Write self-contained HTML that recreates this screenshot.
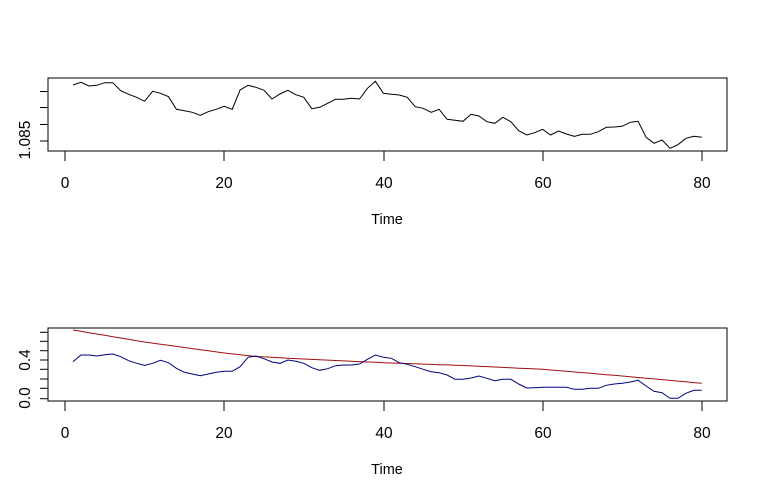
<!DOCTYPE html>
<html><head><meta charset="utf-8"><style>
html,body{margin:0;padding:0;background:#fff;}
svg{display:block;font-family:"Liberation Sans",Arial,sans-serif;}
</style></head><body>
<svg id="s" width="776" height="496" xmlns="http://www.w3.org/2000/svg">
<rect width="776" height="496" fill="#fff"/>
<rect x="48" y="78" width="679" height="73" fill="none" stroke="#000" stroke-width="1"/>
<g stroke="#000">
<line x1="65" y1="151" x2="702" y2="151"/>
<line x1="65" y1="151" x2="65" y2="161"/><line x1="224" y1="151" x2="224" y2="161"/>
<line x1="384" y1="151" x2="384" y2="161"/><line x1="543" y1="151" x2="543" y2="161"/>
<line x1="702" y1="151" x2="702" y2="161"/>
<line x1="48" y1="91.5" x2="40" y2="91.5"/><line x1="48" y1="107.5" x2="40" y2="107.5"/>
<line x1="48" y1="124.5" x2="40" y2="124.5"/><line x1="48" y1="141" x2="40" y2="141"/>
</g>
<g font-size="15.5" text-anchor="middle" fill="#000">
<text x="65" y="188">0</text><text x="224" y="188">20</text><text x="384" y="188">40</text>
<text x="543" y="188">60</text><text x="702" y="188">80</text>
<text x="387" y="224" font-size="14.5">Time</text>
<text transform="translate(30,140) rotate(-90)">1.085</text>
</g>
<rect x="48" y="328" width="679" height="73" fill="none" stroke="#000" stroke-width="1"/>
<g stroke="#000">
<line x1="65" y1="401" x2="702" y2="401"/>
<line x1="65" y1="401" x2="65" y2="411"/><line x1="224" y1="401" x2="224" y2="411"/>
<line x1="384" y1="401" x2="384" y2="411"/><line x1="543" y1="401" x2="543" y2="411"/>
<line x1="702" y1="401" x2="702" y2="411"/>
<line x1="48" y1="332.3" x2="40" y2="332.3"/><line x1="48" y1="341.3" x2="40" y2="341.3"/>
<line x1="48" y1="350.7" x2="40" y2="350.7"/><line x1="48" y1="360" x2="40" y2="360"/>
<line x1="48" y1="369.3" x2="40" y2="369.3"/><line x1="48" y1="379" x2="40" y2="379"/>
<line x1="48" y1="388.3" x2="40" y2="388.3"/><line x1="48" y1="398.7" x2="40" y2="398.7"/>
</g>
<g font-size="15.5" text-anchor="middle" fill="#000">
<text x="65" y="438">0</text><text x="224" y="438">20</text><text x="384" y="438">40</text>
<text x="543" y="438">60</text><text x="702" y="438">80</text>
<text x="387" y="474" font-size="14.5">Time</text>
<text transform="translate(30,360) rotate(-90)">0.4</text>
<text transform="translate(30,398) rotate(-90)">0.0</text>
</g>
<polyline id="p1" fill="none" stroke="#000" stroke-width="1"/>
<polyline id="p3" fill="none" stroke="#a01010" stroke-width="1"/>
<polyline id="p2" fill="none" stroke="#000080" stroke-width="1"/>
</svg>
<script>
var top1=[75,67,78,76,68,68,92,103,112,124,94,100,110,148,152,157,166,155,148,139,148,90,76,82,91,117,102,91,104,112,146,142,130,118,118,115,117,85,64,100,103,105,112,140,145,157,148,178,181,184,163,168,185,190,172,185,212,225,218,208,225,213,222,229,223,223,215,202,201,199,187,184,232,250,240,265,254,235,229,232];
var blue=[125,105,105,108,104,102,110,122,130,136,130,121,128,145,157,162,167,162,157,154,154,140,112,108,116,126,130,120,124,130,143,151,146,137,135,135,132,118,105,112,115,128,133,140,148,155,158,165,178,178,174,168,175,182,178,178,192,204,203,202,202,202,202,208,208,205,205,196,192,190,186,181,198,214,218,235,235,220,211,211];
function X(t){return 65+(t*7.96);}
var a=[],b=[],c=[];
for(var i=0;i<80;i++){var t=i+1;
a.push(X(t).toFixed(1)+","+(60+top1[i]/3).toFixed(1));
b.push(X(t).toFixed(1)+","+(320+blue[i]/3).toFixed(1));}
var rk=[[1,330],[10,342],[20,353],[24,356.5],[30,359],[40,362.7],[50,365.5],[60,369.3],[70,376],[80,383.3]];
for(var t=1;t<=80;t++){for(var j=0;j<rk.length-1;j++){if(t>=rk[j][0]&&t<=rk[j+1][0]){var f=(t-rk[j][0])/(rk[j+1][0]-rk[j][0]);c.push(X(t).toFixed(1)+","+(rk[j][1]+f*(rk[j+1][1]-rk[j][1])).toFixed(1));break;}}}
document.getElementById("p1").setAttribute("points",a.join(" "));
document.getElementById("p2").setAttribute("points",b.join(" "));
document.getElementById("p3").setAttribute("points",c.join(" "));
</script>
</body></html>
